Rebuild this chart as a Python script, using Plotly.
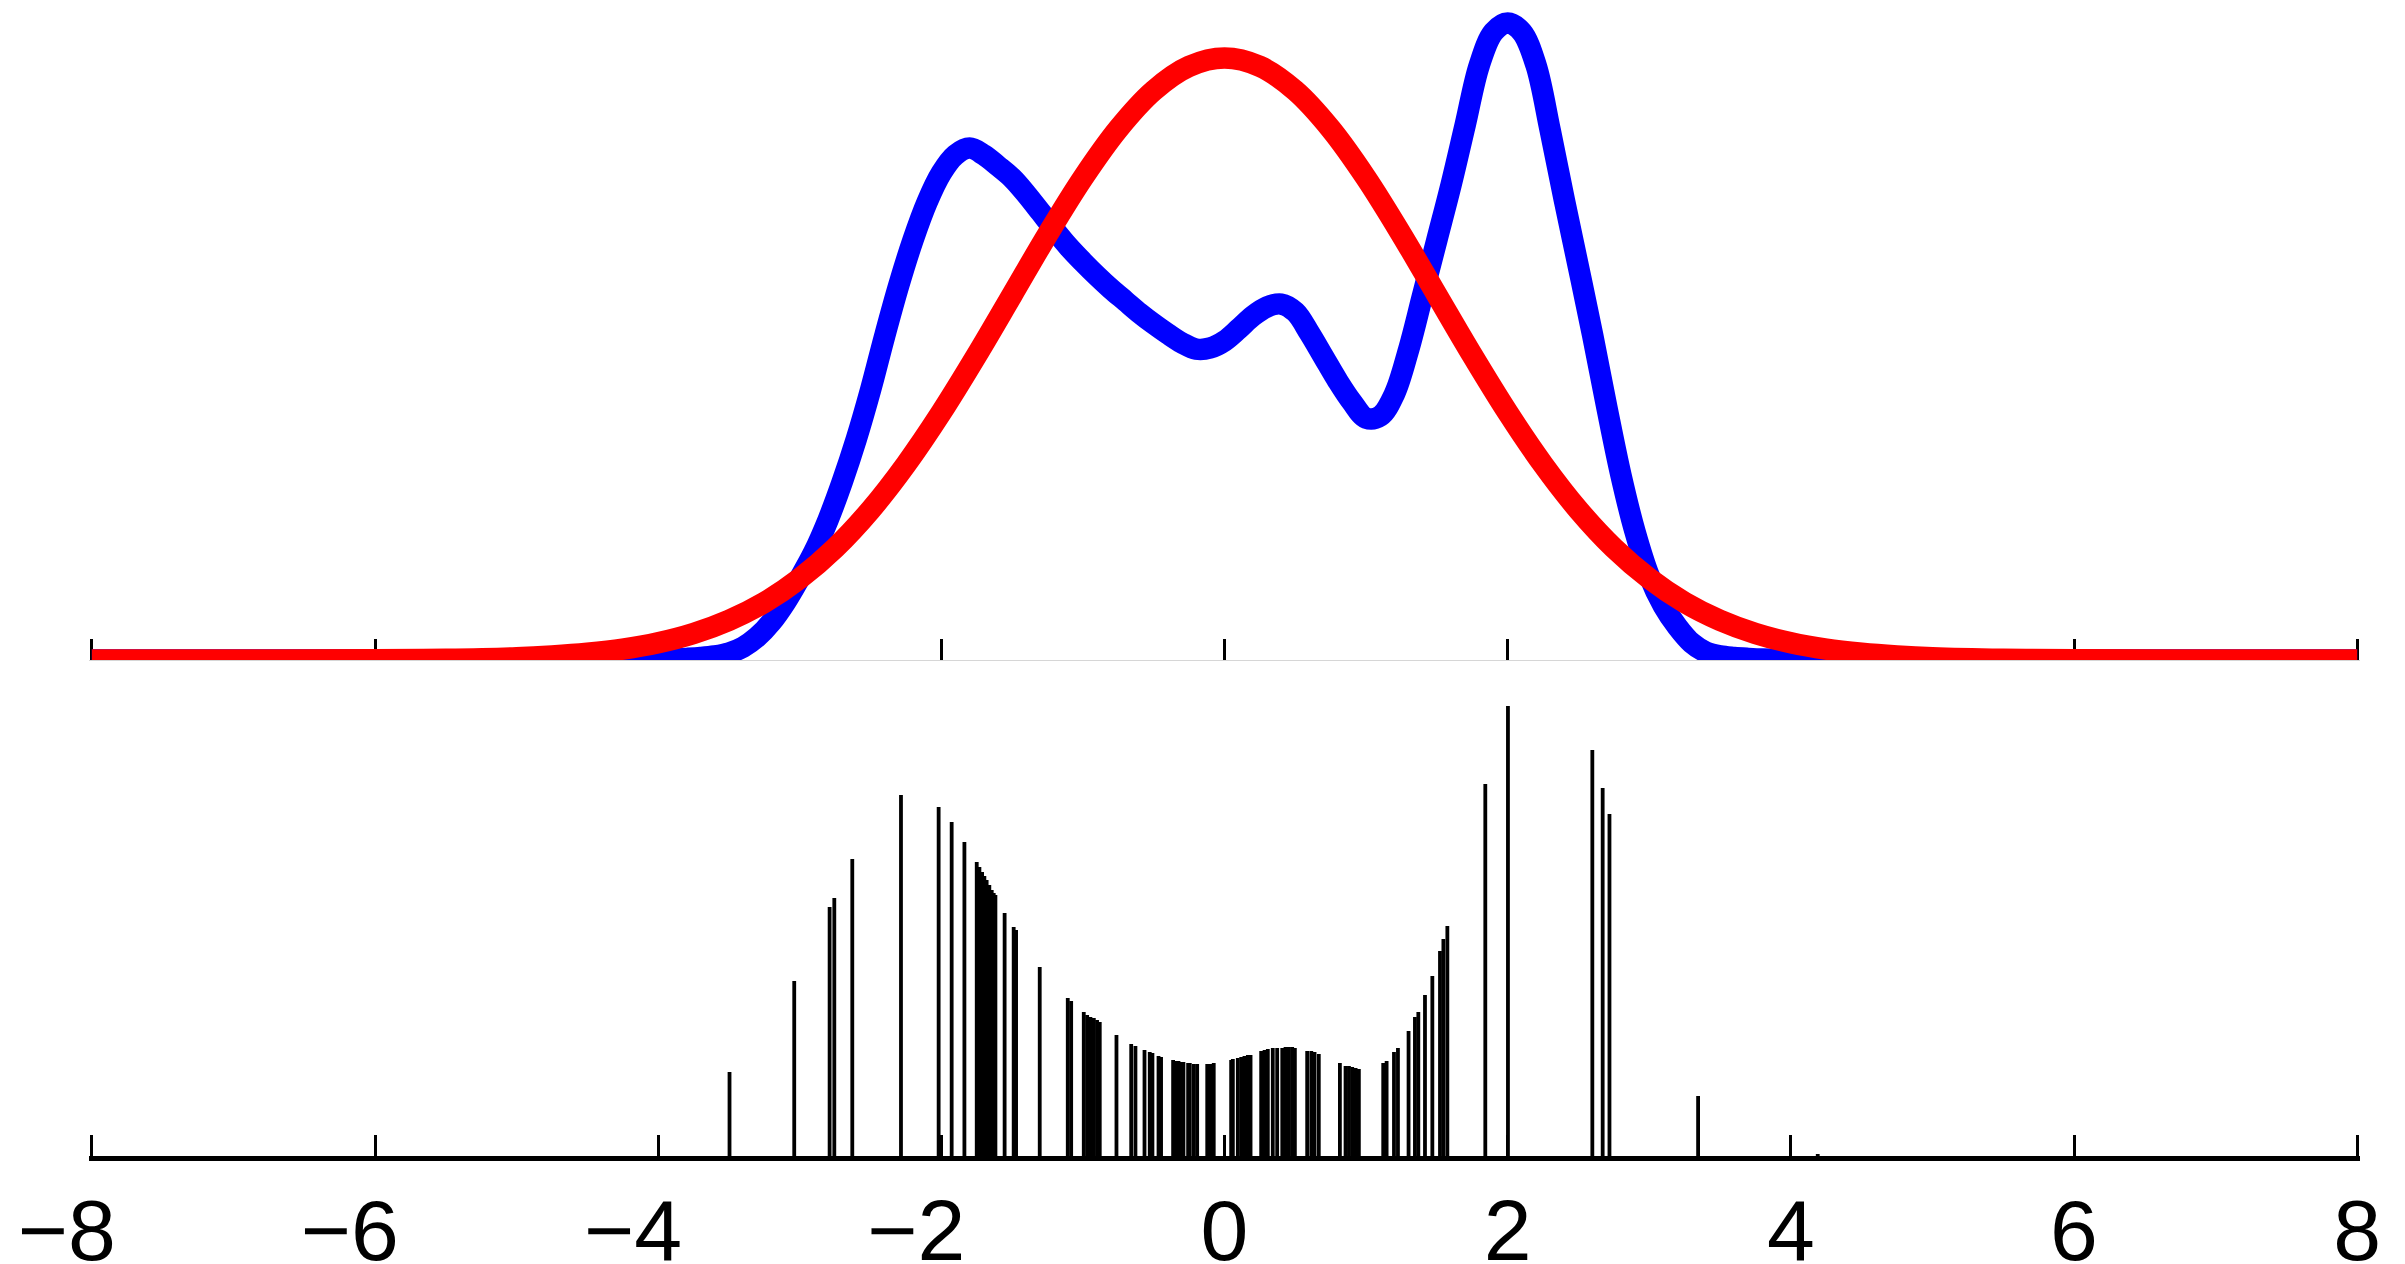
import plotly.graph_objects as go

# Upper panel: two density estimates evaluated on a grid
blue_x = [-8.0, -4.5,
          -4.0, -3.9, -3.8, -3.7, -3.6, -3.5, -3.4, -3.3, -3.2, -3.1,
          -3.0, -2.9, -2.8, -2.7, -2.6, -2.5, -2.4, -2.3, -2.2, -2.1,
          -2.0, -1.9, -1.8, -1.7, -1.6, -1.5, -1.4, -1.3, -1.2, -1.1,
          -1.0, -0.9, -0.8, -0.7, -0.6, -0.5, -0.4, -0.3, -0.2, -0.1,
          0.0, 0.1, 0.2, 0.3, 0.4, 0.5, 0.6, 0.7, 0.8, 0.9,
          1.0, 1.1, 1.2, 1.3, 1.4, 1.5, 1.6, 1.7, 1.8, 1.9,
          2.0, 2.1, 2.2, 2.3, 2.4, 2.5, 2.6, 2.7, 2.8, 2.9,
          3.0, 3.1, 3.2, 3.3, 3.4, 3.5, 3.6, 3.7, 3.8, 3.9,
          4.0, 4.5, 8.0]
blue_y = [0.0, 0.0,
          0.0002, 0.0004, 0.0007, 0.0011, 0.0018, 0.0031, 0.0057, 0.0102, 0.0168, 0.0256,
          0.0362, 0.0477, 0.0619, 0.0787, 0.0977, 0.1193, 0.1432, 0.1657, 0.1856, 0.2024,
          0.2152, 0.2232, 0.2262, 0.2232, 0.2183, 0.2130, 0.2059, 0.1980, 0.1900, 0.1825,
          0.1759, 0.1697, 0.1639, 0.1586, 0.1533, 0.1485, 0.1441, 0.1401, 0.1374, 0.1379,
          0.1410, 0.1463, 0.1520, 0.1560, 0.1573, 0.1538, 0.1445, 0.1339, 0.1233, 0.1140,
          0.1069, 0.1078, 0.1175, 0.1370, 0.1613, 0.1856, 0.2099, 0.2364, 0.2629, 0.2775,
          0.2815, 0.2775, 0.2629, 0.2342, 0.2033, 0.1737, 0.1436, 0.1118, 0.0817, 0.0566,
          0.0371, 0.0239, 0.0146, 0.0075, 0.0035, 0.0018, 0.0011, 0.0007, 0.0004, 0.0003,
          0.0002, 0.0, 0.0]

red_x = [-8.0, -7.0, -6.0, -5.5, -5.0, -4.75, -4.5, -4.25, -4.0, -3.75, -3.5, -3.25, -3.0,
         -2.75, -2.5, -2.25, -2.0, -1.75, -1.5, -1.25, -1.0, -0.75, -0.5, -0.25, 0.0,
         0.25, 0.5, 0.75, 1.0, 1.25, 1.5, 1.75, 2.0, 2.25, 2.5, 2.75, 3.0, 3.25, 3.5,
         3.75, 4.0, 4.25, 4.5, 4.75, 5.0, 5.5, 6.0, 7.0, 8.0]
red_y = [0, 0, 0.0001, 0.0003, 0.0010, 0.0018, 0.0030, 0.0048, 0.0076, 0.0117, 0.0175,
         0.0254, 0.0360, 0.0495, 0.0663, 0.0864, 0.1094, 0.1347, 0.1613, 0.1880, 0.2130,
         0.2347, 0.2516, 0.2623, 0.2660, 0.2623, 0.2516, 0.2347, 0.2130, 0.1880, 0.1613,
         0.1347, 0.1094, 0.0864, 0.0663, 0.0495, 0.0360, 0.0254, 0.0175, 0.0117, 0.0076,
         0.0048, 0.0030, 0.0018, 0.0010, 0.0003, 0.0001, 0, 0]

# Lower panel: sample locations and their weights
stem_x = [-3.496, -3.039, -2.789, -2.756, -2.629, -2.285, -2.019, -1.927, -1.837, -1.750,
          -1.731, -1.712, -1.696, -1.680, -1.661, -1.644, -1.630, -1.618, -1.553, -1.489,
          -1.472, -1.305, -1.107, -1.083, -0.994, -0.970, -0.947, -0.923, -0.900, -0.881,
          -0.763, -0.659, -0.629, -0.565, -0.528, -0.509, -0.466, -0.448, -0.363, -0.344,
          -0.325, -0.306, -0.290, -0.257, -0.245, -0.217, -0.193, -0.122, -0.099, -0.076,
          0.047, 0.059, 0.094, 0.118, 0.141, 0.165, 0.184, 0.259, 0.283, 0.306, 0.341,
          0.372, 0.408, 0.431, 0.455, 0.478, 0.497, 0.584, 0.613, 0.636, 0.666, 0.815,
          0.855, 0.879, 0.902, 0.926, 0.949, 1.121, 1.145, 1.197, 1.225, 1.300, 1.345,
          1.369, 1.416, 1.468, 1.522, 1.546, 1.574, 1.842, 2.002, 2.598, 2.671, 2.719,
          3.345, 4.190]
stem_w = [0.084, 0.175, 0.249, 0.258, 0.297, 0.361, 0.349, 0.334, 0.314, 0.294,
          0.289, 0.284, 0.280, 0.276, 0.271, 0.266, 0.263, 0.261, 0.243, 0.229,
          0.226, 0.189, 0.158, 0.155, 0.144, 0.141, 0.139, 0.138, 0.136, 0.134,
          0.121, 0.112, 0.110, 0.106, 0.104, 0.103, 0.100, 0.099, 0.096, 0.095,
          0.095, 0.094, 0.094, 0.093, 0.093, 0.092, 0.092, 0.092, 0.092, 0.093,
          0.096, 0.097, 0.098, 0.099, 0.100, 0.101, 0.101, 0.105, 0.106, 0.107, 0.108,
          0.108, 0.108, 0.109, 0.109, 0.109, 0.108, 0.105, 0.105, 0.104, 0.102, 0.093,
          0.090, 0.090, 0.089, 0.088, 0.087, 0.093, 0.095, 0.104, 0.108, 0.125, 0.139,
          0.144, 0.161, 0.180, 0.205, 0.217, 0.230, 0.372, 0.450, 0.406, 0.368, 0.342,
          0.060, 0.002]

tick_vals = [-8, -6, -4, -2, 0, 2, 4, 6, 8]

# Negative labels keep the digit centred on the tick: an invisible minus balances the visible one
ghost = "<span style='color:rgba(0,0,0,0)'>\u2212</span>"
tick_text = [("\u2212" + str(abs(v)) + ghost) if v < 0 else str(v) for v in tick_vals]

# vertical segments from the baseline up to each weight
seg_x, seg_y = [], []
for xv, wv in zip(stem_x, stem_w):
    seg_x += [xv, xv, None]
    seg_y += [0, wv, None]

fig = go.Figure()
fig.add_trace(go.Scatter(x=blue_x, y=blue_y, mode="lines",
                         line=dict(color="#0000ff", width=21.5, shape="spline", smoothing=1.0),
                         xaxis="x", yaxis="y", showlegend=False, hoverinfo="skip"))
fig.add_trace(go.Scatter(x=red_x, y=red_y, mode="lines",
                         line=dict(color="#ff0000", width=21.5, shape="spline", smoothing=1.0),
                         xaxis="x", yaxis="y", showlegend=False, hoverinfo="skip"))
fig.add_trace(go.Scatter(x=seg_x, y=seg_y, mode="lines", connectgaps=False,
                         line=dict(color="black", width=3.8),
                         xaxis="x2", yaxis="y2", showlegend=False, hoverinfo="skip"))

H, W = 1264, 2405
mb = 108
plot_h = H - mb
top_bottom_px = 660
low_top_px = 690
# a hair of padding so the end ticks at -8 and 8 are kept
xr = [-8.02, 8.02]

fig.update_layout(
    width=W, height=H,
    margin=dict(l=89, r=45, t=0, b=mb),
    paper_bgcolor="white", plot_bgcolor="white",
    xaxis=dict(range=xr, domain=[0, 1], anchor="y", automargin=False,
               tickvals=tick_vals, ticks="inside", ticklen=21, tickwidth=3,
               tickcolor="black", showticklabels=False, showgrid=False, zeroline=False,
               showline=True, linecolor="#d6d6d6", linewidth=1, layer="below traces"),
    yaxis=dict(range=[0, top_bottom_px / 2263], domain=[(plot_h - top_bottom_px) / plot_h, 1],
               visible=False, showgrid=False, zeroline=False),
    xaxis2=dict(range=xr, domain=[0, 1], anchor="y2", automargin=False,
                tickvals=tick_vals, ticktext=tick_text, ticks="inside", ticklen=21, tickwidth=3,
                tickcolor="black", showgrid=False, zeroline=False,
                showline=True, linecolor="black", linewidth=4.5, ticklabelstandoff=-4,
                tickfont=dict(family="Liberation Sans, Arial, sans-serif", size=86, color="black")),
    yaxis2=dict(range=[0, (plot_h - low_top_px) / 1000], domain=[0, (plot_h - low_top_px) / plot_h],
                visible=False, showgrid=False, zeroline=False),
)

fig.write_html("out.html")
